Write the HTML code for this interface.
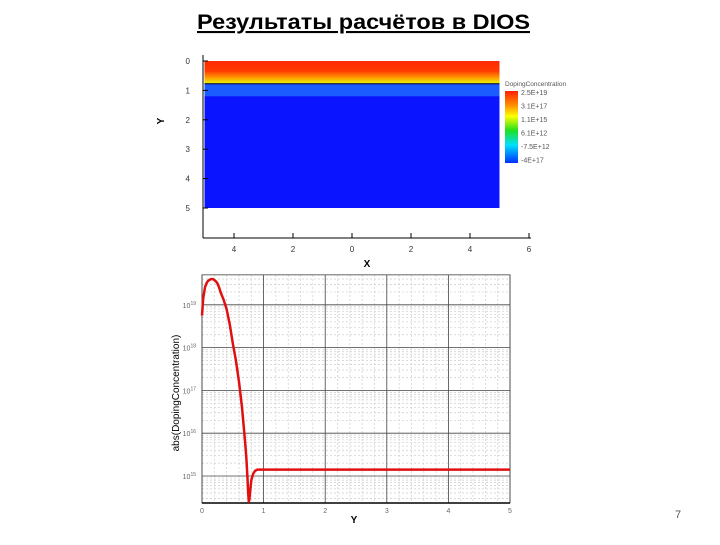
<!DOCTYPE html>
<html><head><meta charset="utf-8"><style>
body{margin:0;width:720px;height:540px;background:#fff;overflow:hidden;font-family:"Liberation Sans",sans-serif}
</style></head><body>
<svg width="720" height="540" xmlns="http://www.w3.org/2000/svg">
<defs>
<linearGradient id="band" x1="0" y1="0" x2="0" y2="1">
<stop offset="0" stop-color="#ff2a00"/><stop offset="0.45" stop-color="#ff3a00"/><stop offset="0.75" stop-color="#ff9a00"/><stop offset="1" stop-color="#e8f000"/></linearGradient>
<linearGradient id="cbar" x1="0" y1="0" x2="0" y2="1">
<stop offset="0" stop-color="#ff2000"/><stop offset="0.2" stop-color="#ff9000"/><stop offset="0.35" stop-color="#ffff00"/><stop offset="0.55" stop-color="#20e020"/><stop offset="0.75" stop-color="#00e0ff"/><stop offset="1" stop-color="#0030ff"/></linearGradient>
</defs>
<text x="197" y="29" textLength="333" lengthAdjust="spacingAndGlyphs" font-size="21" font-weight="bold" text-decoration="underline" font-family="Liberation Sans, sans-serif">Результаты расчётов в DIOS</text>
<g id="topPlot"></g>
<g id="botPlot"></g>
<text x="675" y="518" font-size="11" fill="#555">7</text>
</svg>
<script>
const xTicks=[-4,-2,0,2,4,6];
const xTickLabels=["4","2","0","2","4","6"];
const yTicksTop=[0,1,2,3,4,5];
const cbarLabels=["2.5E+19","3.1E+17","1.1E+15","6.1E+12","-7.5E+12","-4E+17"];
const lineX=[0,0.02,0.05,0.08,0.1,0.13,0.15,0.18,0.2,0.23,0.25,0.28,0.3,0.35,0.4,0.45,0.5,0.55,0.6,0.65,0.7,0.72,0.74,0.75,0.76,0.77,0.78,0.8,0.83,0.86,0.9,1,2,3,4,5];
const lineLogY=[18.75,19.15,19.42,19.52,19.56,19.59,19.6,19.6,19.58,19.54,19.5,19.4,19.3,19.12,18.9,18.55,18.1,17.7,17.2,16.6,15.8,15.4,14.9,14.6,14.4,14.45,14.6,14.9,15.05,15.12,15.15,15.15,15.15,15.15,15.15,15.15];
const xTicksBot=[0,1,2,3,4,5];
const yDecades=[15,16,17,18,19];
const NS="http://www.w3.org/2000/svg";
function mk(p,t,a,txt){const e=document.createElementNS(NS,t);for(const k in a)e.setAttribute(k,a[k]);if(txt!==undefined)e.textContent=txt;p.appendChild(e);return e;}
const topG=document.getElementById('topPlot');
const tx=v=>352+v*29.5, ty=v=>61+v*29.4;
let r=mk(topG,'rect',{x:tx(-5),y:ty(0),width:tx(5)-tx(-5),height:ty(5)-ty(0),fill:'#0a14ff'});


mk(topG,'rect',{x:tx(-5),y:ty(0.8),width:tx(5)-tx(-5),height:ty(1.2)-ty(0.8),fill:'#1a5cff'});
r=mk(topG,'rect',{x:tx(-5),y:ty(0),width:tx(5)-tx(-5),height:ty(0.75)-ty(0),fill:'url(#band)'});


mk(topG,'line',{x1:tx(-5),y1:ty(0.77),x2:tx(5),y2:ty(0.77),stroke:'#333',"stroke-width":1.2});
mk(topG,'line',{x1:203,y1:55,x2:203,y2:238,stroke:'#000'});
mk(topG,'line',{x1:203,y1:238,x2:531,y2:238,stroke:'#000'});
xTicks.forEach((v,i)=>{mk(topG,'line',{x1:tx(v),y1:238,x2:tx(v),y2:233,stroke:'#000'});
 const t=mk(topG,'text',{x:tx(v),y:252,"font-size":8,"text-anchor":"middle",fill:'#333'},xTickLabels[i]);
 
 });
yTicksTop.forEach(v=>{mk(topG,'line',{x1:203,y1:ty(v),x2:208,y2:ty(v),stroke:'#000'});
 const t=mk(topG,'text',{x:190,y:ty(v)+3,"font-size":8,"text-anchor":"end",fill:'#333'},v);
 
 });
let t=mk(topG,'text',{x:367,y:267,"font-size":10,"font-weight":"bold","text-anchor":"middle"},'X');


t=mk(topG,'text',{x:161,y:124,"font-size":10,"font-weight":"bold","text-anchor":"middle",transform:'rotate(-90 161 121)'},'Y');


r=mk(topG,'rect',{x:505,y:91,width:13,height:72,fill:'url(#cbar)'});


t=mk(topG,'text',{x:505,y:86,"font-size":6.5,fill:'#555'},'DopingConcentration');


cbarLabels.forEach((s,i)=>{const e=mk(topG,'text',{x:521,y:95+i*13.5,"font-size":7,fill:'#555'},s);
 
 });
const botG=document.getElementById('botPlot');
const bx=v=>202+v*61.6, by=v=>476-(v-15)*42.8;
const yMin=by(14.37), yMax=by(19.7);
for(let d=14;d<20;d++)for(let m=2;m<10;m++){const yy=by(d+Math.log10(m));if(yy<yMax||yy>yMin)continue;
 mk(botG,'line',{x1:bx(0),y1:yy,x2:bx(5),y2:yy,stroke:'#ccc',"stroke-dasharray":'2,2',"stroke-width":0.7});}
for(let v=0.2;v<5;v+=0.2){if(Math.abs(v-Math.round(v))<0.01)continue;
 mk(botG,'line',{x1:bx(v),y1:yMax,x2:bx(v),y2:yMin,stroke:'#ccc',"stroke-dasharray":'2,2',"stroke-width":0.7});}
yDecades.forEach(d=>{mk(botG,'line',{x1:bx(0),y1:by(d),x2:bx(5),y2:by(d),stroke:'#444',"stroke-width":0.8});
 const e=mk(botG,'text',{x:196,y:by(d)+3,"font-size":7,"text-anchor":"end",fill:'#666'});
 
 
 e.textContent='10';mk(e,'tspan',{dy:-3,"font-size":5},d);});
xTicksBot.forEach(v=>{mk(botG,'line',{x1:bx(v),y1:yMax,x2:bx(v),y2:yMin,stroke:'#444',"stroke-width":0.8});
 const e=mk(botG,'text',{x:bx(v),y:yMin+10,"font-size":7,"text-anchor":"middle",fill:'#666'},v);
 
 });
mk(botG,'rect',{x:bx(0),y:yMax,width:bx(5)-bx(0),height:yMin-yMax,fill:'none',stroke:'#444',"stroke-width":0.8});
mk(botG,'line',{x1:bx(0),y1:yMin,x2:bx(5),y2:yMin,stroke:'#000',"stroke-width":1.5});
const pts=lineX.map((v,i)=>bx(v).toFixed(1)+','+by(lineLogY[i]).toFixed(1)).join(' ');
const pl=mk(botG,'polyline',{points:pts,fill:'none',stroke:'#e01010',"stroke-width":2.5,"stroke-linejoin":"round"});


t=mk(botG,'text',{x:354,y:523,"font-size":10,"font-weight":"bold","text-anchor":"middle"},'Y');


t=mk(botG,'text',{x:179,y:393,"font-size":10,"text-anchor":"middle",transform:'rotate(-90 179 393)'},'abs(DopingConcentration)');


</script>
</body></html>
